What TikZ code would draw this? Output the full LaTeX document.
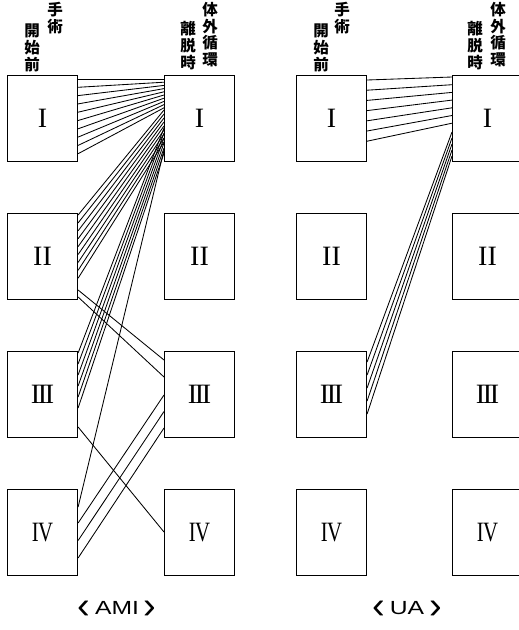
\documentclass[tikz,border=0pt]{standalone}
\usepackage{fontspec}
\setmainfont{Liberation Serif}
\newfontfamily\jpfont{Noto Sans CJK JP}
\newfontfamily\capfont{Liberation Sans}
\newcommand\mybundle[7]{%
  \foreach \k [evaluate=\k as \a using #4+#5*\k, evaluate=\k as \b using #6+#7*\k] in {0,...,#3} {%
    \draw[link] ([yshift=-\a pt]#1.north east) -- ([yshift=-\b pt]#2.north west);}}
\newcommand\brL{\raisebox{-4.5pt}{\scalebox{2}{‹}}}
\newcommand\brR{\raisebox{-4.5pt}{\scalebox{2}{›}}}
\begin{document}
\begin{tikzpicture}[x=1pt,y=-1pt,
  box/.style={draw, line width=1.1pt, minimum width=70pt, minimum height=86pt,
    inner sep=0pt, anchor=north west, font=\fontsize{28}{28}\selectfont},
  link/.style={line width=0.85pt},
  hdr/.style={font=\jpfont\bfseries\fontsize{15.5}{16.8}\selectfont, align=center,
    inner sep=0pt, anchor=north},
  captext/.style={font=\capfont\fontsize{19}{19}\selectfont, inner sep=0pt}]
\useasboundingbox (0,0) rectangle (519,630);
\begin{scope}
\clip (0,0) rectangle (519,630);
% AMI boxes
\node[box] (AL1) at (7,75) {I};
\node[box] (AL2) at (7,213) {II};
\node[box] (AL3) at (7,351) {I\kern-2.4pt I\kern-2.4pt I};
\node[box] (AL4) at (7,489) {\scalebox{0.74}[1]{I\kern-1pt V}};
\node[box] (AR1) at (164,75) {I};
\node[box] (AR2) at (164,213) {II};
\node[box] (AR3) at (164,351) {I\kern-2.4pt I\kern-2.4pt I};
\node[box] (AR4) at (164,489) {\scalebox{0.74}[1]{I\kern-1pt V}};
% UA boxes
\node[box] (UL1) at (296,75) {I};
\node[box] (UL2) at (296,213) {II};
\node[box] (UL3) at (296,351) {I\kern-2.4pt I\kern-2.4pt I};
\node[box] (UL4) at (296,489) {\scalebox{0.74}[1]{I\kern-1pt V}};
\node[box] (UR1) at (452,75) {I};
\node[box] (UR2) at (452,213) {II};
\node[box] (UR3) at (452,351) {I\kern-2.4pt I\kern-2.4pt I};
\node[box] (UR4) at (452,489) {\scalebox{0.74}[1]{I\kern-1pt V}};
% headers
\node[hdr] (ha1) at (55,2) {手\\術};
\node[hdr] (ha2) at (32,24) {開\\始\\前};
\node[hdr] (ha3) at (210,2) {体\\外\\循\\環};
\node[hdr] (ha4) at (188,21) {離\\脱\\時};
\node[hdr] (hu1) at (342,2) {手\\術};
\node[hdr] (hu2) at (321,24) {開\\始\\前};
\node[hdr] (hu3) at (498,2) {体\\外\\循\\環};
\node[hdr] (hu4) at (475,21) {離\\脱\\時};
% AMI connectors
\mybundle{AL1}{AR1}{9}{4}{8.3}{4}{3.2}
\mybundle{AL2}{AR1}{8}{2}{7.9}{35}{4}
\mybundle{AL3}{AR1}{5}{2}{11}{53}{5}
\draw[link] ([yshift=-18pt]AL4.north east) -- ([yshift=-75pt]AR1.north west);
\mybundle{AL2}{AR3}{1}{77}{7}{9}{17}
\draw[link] ([yshift=-76pt]AL3.north east) -- ([yshift=-43pt]AR4.north west);
\mybundle{AL4}{AR3}{2}{34}{17.5}{44}{16.5}
% UA connectors
\mybundle{UL1}{UR1}{6}{5}{10.2}{2}{7.7}
\mybundle{UL3}{UR1}{4}{11}{13}{57}{6}
% captions
\node[captext] (cA) at (117,610) {\brL\hspace{5pt}\scalebox{1.3}[1]{AMI}\hspace{5pt}\brR};
\node[captext] (cU) at (407,610) {\brL\hspace{5pt}\scalebox{1.3}[1]{UA}\hspace{5pt}\brR};
\end{scope}
\end{tikzpicture}
\end{document}
